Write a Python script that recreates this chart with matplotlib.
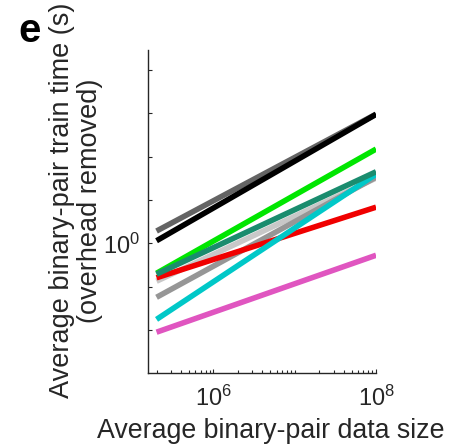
import matplotlib
matplotlib.use("Agg")
import matplotlib.pyplot as plt
from matplotlib.ticker import FixedLocator, NullFormatter, FixedFormatter

plt.rcParams['font.family'] = ['Liberation Sans', 'DejaVu Sans']
plt.rcParams['mathtext.fontset'] = 'custom'
plt.rcParams['mathtext.rm'] = 'Liberation Sans'
plt.rcParams['mathtext.it'] = 'Liberation Sans'

# Fitted scaling lines: train time at the smallest and largest data size
data_size = [2e5, 1e8]
series_names = ["dark gray", "black", "light gray", "medium gray", "red",
                "cyan", "magenta", "green", "teal"]
time_start = [1.22, 1.045, 0.548, 0.424, 0.579, 0.298, 0.243, 0.622, 0.613]
time_end = [7.87, 7.85, 2.84, 2.88, 1.785, 3.02, 0.829, 4.51, 3.14]
colors = ["#646464", "#000000", "#c8c8c8", "#969696", "#f00000",
          "#00c8c8", "#e055c0", "#00e600", "#1a8c6e"]

x_ticks = [1e6, 1e8]
x_ticklabels = ["$10^{6}$", "$10^{8}$"]
y_ticks = [0.25, 0.5, 1, 2, 4, 8, 16]
y_ticklabels = ["", "", "$10^{0}$", "", "", "", ""]

ink = "#262626"

fig = plt.figure(figsize=(4.66, 4.46), dpi=100)
ax = fig.add_axes([0.3176, 0.1637, 0.807 - 0.3176, 0.888 - 0.1637])

for name, y0, y1, c in zip(series_names, time_start, time_end, colors):
    ax.plot(data_size, [y0, y1], color=c, lw=4.0, solid_capstyle='butt', label=name)

ax.set_xscale('log')
ax.set_yscale('log')
ax.set_xlim(1.57e5, 1e8)
ax.set_ylim(2 ** -2.98, 2 ** 4.454)

ax.xaxis.set_major_locator(FixedLocator(x_ticks))
ax.xaxis.set_major_formatter(FixedFormatter(x_ticklabels))
minor_x = [m * 10 ** e for e in range(5, 8) for m in range(1, 10)]
ax.xaxis.set_minor_locator(FixedLocator([v for v in minor_x if v not in x_ticks]))
ax.xaxis.set_minor_formatter(NullFormatter())

ax.yaxis.set_major_locator(FixedLocator(y_ticks))
ax.yaxis.set_major_formatter(FixedFormatter(y_ticklabels))
ax.yaxis.set_minor_locator(FixedLocator([]))

ax.spines['top'].set_visible(False)
ax.spines['right'].set_visible(False)
for s in ('left', 'bottom'):
    ax.spines[s].set_color(ink)
    ax.spines[s].set_linewidth(1.0)

ax.tick_params(axis='both', which='both', direction='in', color=ink,
               labelcolor=ink, labelsize=17, width=0.8)
ax.tick_params(axis='both', which='major', length=3)
ax.tick_params(axis='both', which='minor', length=2)
ax.tick_params(axis='x', pad=9)
ax.tick_params(axis='y', pad=6)

fig.text(0.582, 0.034, "Average binary-pair data size", ha='center', va='center',
         fontsize=19.3, color=ink)
fig.text(0.163, 0.55, "Average binary-pair train time (s)\n(overhead removed)",
         ha='center', va='center', rotation=90, multialignment='center',
         fontsize=19.5, color=ink, linespacing=1.1)
fig.text(0.064, 0.93, "e", ha='center', va='center', fontsize=29,
         fontweight='bold', color='black')

fig.savefig("out.png", dpi=100)
